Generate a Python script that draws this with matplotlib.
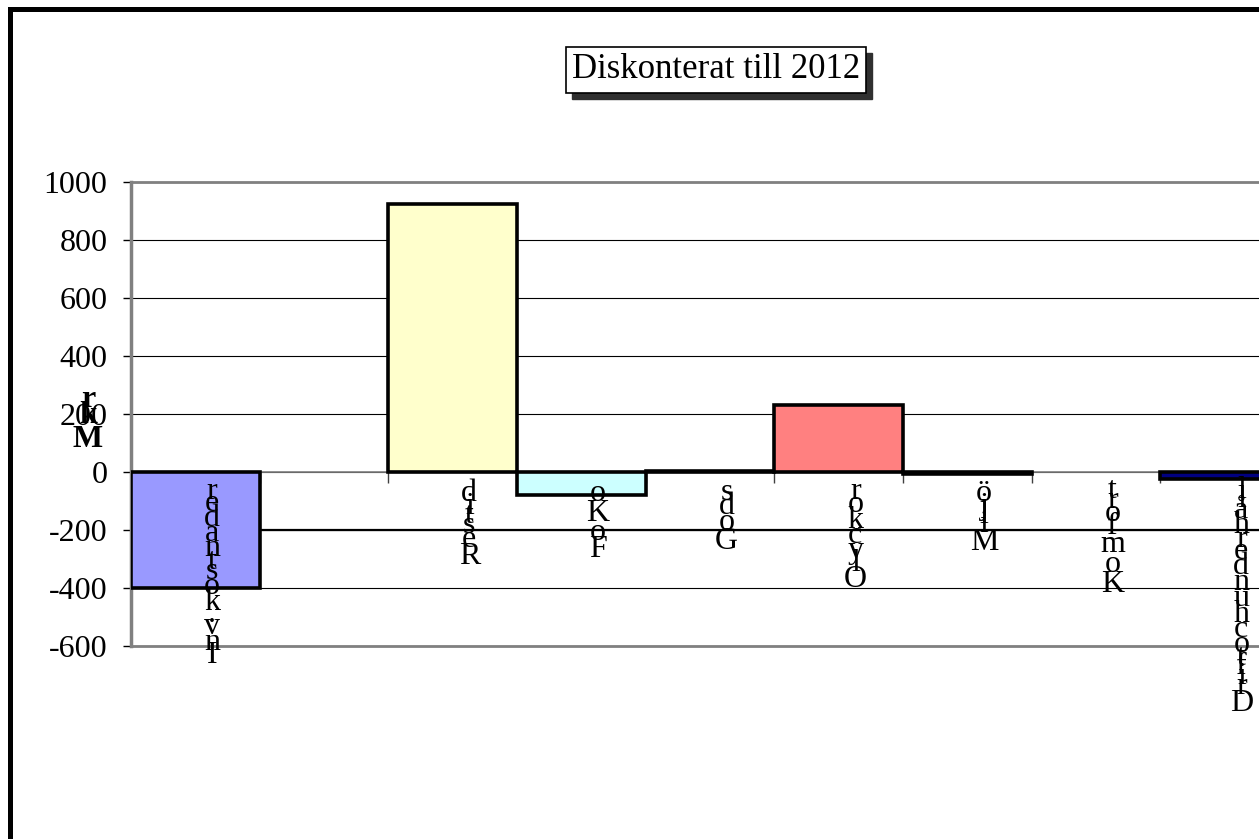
#!/usr/bin/env python3

import numpy as np
import matplotlib
matplotlib.use("Agg")
import matplotlib.pyplot as plt
from matplotlib.patches import Rectangle
from matplotlib.font_manager import FontProperties, findfont
from matplotlib.ft2font import FT2Font

# data (Mkr, discounted to 2012)
categories = ["Inv.kostnader", "", "Restid", "FoKo", "Gods", "Olyckor",
              "Miljö", "Komfort", "Drift och underhåll"]
values = [-400, np.nan, 925, -80, 5, 232, -7, 0, -25]
colors = ["#9999FF", "#993366", "#FFFFCC", "#CCFFFF", "#660066",
          "#FF8080", "#0066CC", "#CCCCFF", "#000080"]
yticks = [-600, -400, -200, 0, 200, 400, 600, 800, 1000]
title = "Diskonterat till 2012"
ylabel = "Mkr"

plt.rcParams['font.family'] = ['Liberation Serif', 'DejaVu Serif']

W, H = 1259, 839
fig = plt.figure(figsize=(W / 100, H / 100), dpi=100)
ax = fig.add_axes([131 / W, 1 - 646 / H, 1158 / W, (646 - 182) / H])

x = np.arange(len(categories))
vals = np.array(values, dtype=float)
ok = ~np.isnan(vals)
lws = [0 if v == 0 else 2.6 for v in vals[ok]]
ax.bar(x[ok], vals[ok], width=1.0, color=np.array(colors)[ok],
       edgecolor='black', linewidth=lws, zorder=3)

ax.set_xlim(-0.5, len(categories) - 0.5)
ax.set_ylim(-600, 1000)
ax.set_yticks(yticks)
ax.set_yticklabels([str(t) for t in yticks])
ax.yaxis.grid(True, color='black', lw=0.8, zorder=0)
ax.axhline(-200, color='black', lw=1.6, zorder=1)
ax.axhline(-600, color='#808080', lw=2, clip_on=False, zorder=1)
ax.set_axisbelow(True)

ax.spines['bottom'].set_position(('data', 0))
ax.spines['bottom'].set_color('#808080')
ax.spines['bottom'].set_linewidth(1.2)
ax.spines['left'].set_color('#808080')
ax.spines['left'].set_linewidth(2.5)
ax.spines['top'].set_color('#808080')
ax.spines['top'].set_linewidth(2)
ax.spines['right'].set_visible(False)

ax.set_xticks(np.arange(-0.5, len(categories), 1))
ax.set_xticklabels([])
ax.tick_params(axis='x', direction='out', length=8, width=1, color='#404040')
ax.tick_params(axis='y', direction='out', length=6, width=1, color='black',
               labelsize=23, pad=11)


def advances(word, fp):
    f = FT2Font(findfont(fp))
    f.set_size(fp.get_size_in_points(), 72)
    return [f.load_char(ord(c)).linearHoriAdvance / 65536 for c in word]


def stack(word, xy, xycoords, fp, dx, gap, scale=1.0):
    # excel drew the rotated text with upright glyphs, last letter on top
    word = word.replace(" ", "")[::-1]
    o = gap
    for c, a in zip(word, advances(word, fp)):
        a *= scale
        ax.annotate(c, xy=xy, xycoords=xycoords,
                    xytext=(dx, -(o + a / 2)), textcoords='offset points',
                    ha='center', va='center', fontproperties=fp,
                    annotation_clip=False, zorder=5)
        o += a


lab_fp = FontProperties(family='Liberation Serif', size=23)
for i, name in enumerate(categories):
    if name:
        stack(name, (i, 0), 'data', lab_fp, 12, 10)

mkr_fp = FontProperties(family='Liberation Serif', size=23, weight='bold')
stack(ylabel, (88 / W, 1 - 392 / H), 'figure fraction', mkr_fp, 0, 0)

# title box with shadow
tx, ty = 716 / W, 1 - 70 / H
box = 'square,pad=0.18'
fig.text(tx + 6 / W, ty - 6 / H, title, fontsize=25, color='none',
         ha='center', va='center',
         bbox=dict(boxstyle=box, facecolor='#303030', edgecolor='#303030'))
fig.text(tx, ty, title, fontsize=25, ha='center', va='center',
         bbox=dict(boxstyle=box, facecolor='white', edgecolor='black', lw=1.2))

# chart area border, runs off the right and bottom of the picture
fig.add_artist(Rectangle((9.5 / W, -0.2), 1.2, 1.2 - 9.5 / H,
                         transform=fig.transFigure, fill=False,
                         edgecolor='black', lw=3.6))

fig.savefig("out.png", dpi=100)
